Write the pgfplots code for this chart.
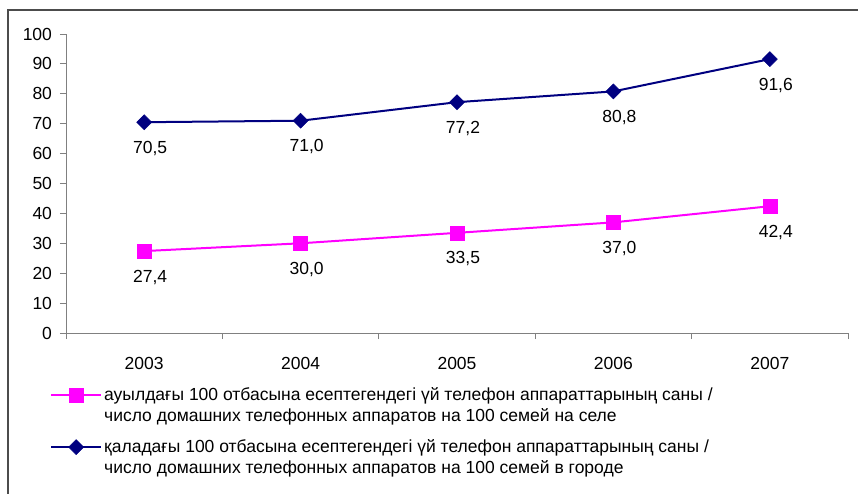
\documentclass[border=0pt]{standalone}
\usepackage{pgfplots}
\pgfplotsset{compat=1.18}
\usepackage{fontspec}
\setmainfont{Liberation Sans}
\definecolor{navyc}{RGB}{0,0,128}
\definecolor{magc}{RGB}{255,0,255}
\definecolor{axgray}{RGB}{128,128,128}
\begin{document}
\fontsize{17.5bp}{21.5bp}\selectfont
\begin{tikzpicture}
\useasboundingbox (0,0) rectangle (858bp,-494bp);
\draw[line width=1.2bp, black!70] (8bp,-494bp) -- (8bp,-10bp) -- (858bp,-10bp);
\begin{axis}[
  at={(144.2bp,-333bp)}, anchor=origin,
  scale only axis, width=782bp, height=299bp,
  xmin=-0.5, xmax=4.5, ymin=0, ymax=100,
  axis x line=bottom, axis y line=left,
  axis line style={-, axgray, line width=1bp},
  xtick={0,1,2,3,4},
  xticklabels={2003,2004,2005,2006,2007},
  minor xtick={-0.5,0.5,1.5,2.5,3.5,4.5},
  ytick={0,10,...,100},
  major tick length=6bp,
  minor tick length=6bp,
  major x tick style={draw=none},
  minor x tick style={axgray, line width=1bp},
  y tick style={axgray, line width=1bp},
  tick align=outside,
  yticklabel style={xshift=-2bp},
  xticklabel style={yshift=-12bp},
  tick label style={font=\fontsize{17.5bp}{21.5bp}\selectfont},
  /pgf/number format/assume math mode=true,
  nodes near coords,
  point meta=explicit symbolic,
  every node near coord/.append style={font=\fontsize{17.5bp}{21.5bp}\selectfont, anchor=center, yshift=-26bp, xshift=6bp, text=black},
  clip=false,
  legend style={at={(-16bp,-52bp)}, anchor=north west, draw=none, fill=none,
    font=\fontsize{17.5bp}{21.5bp}\selectfont, row sep=11bp,
    cells={align=left, anchor=west}, inner sep=0pt},
  legend cell align=left,
]
\addplot[magc, line width=2bp, mark=square*, mark size=7bp, mark options={solid, fill=magc, draw=magc, line width=0.5bp},
  legend image code/.code={\draw[mark repeat=2, mark phase=2] plot coordinates {(0bp,10.75bp) (25bp,10.75bp) (50bp,10.75bp)};}]
  coordinates {(0,27.4)[27,4] (1,30.0)[30,0] (2,33.5)[33,5] (3,37.0)[37,0] (4,42.4)[42,4]};
\addlegendentry{ауылдағы 100 отбасына есептегендегі үй телефон аппараттарының саны /\\число домашних телефонных аппаратов на 100 семей на селе}
\addplot[navyc, line width=2bp, mark=square*, mark size=5.3bp, mark options={solid, fill=navyc, draw=navyc, rotate=45, line width=0.5bp},
  legend image code/.code={\draw[mark repeat=2, mark phase=2] plot coordinates {(0bp,10.75bp) (25bp,10.75bp) (50bp,10.75bp)};}]
  coordinates {(0,70.5)[70,5] (1,71.0)[71,0] (2,77.2)[77,2] (3,80.8)[80,8] (4,91.6)[91,6]};
\addlegendentry{қаладағы 100 отбасына есептегендегі үй телефон аппараттарының саны /\\число домашних телефонных аппаратов на 100 семей в городе}
\end{axis}
\end{tikzpicture}
\end{document}
